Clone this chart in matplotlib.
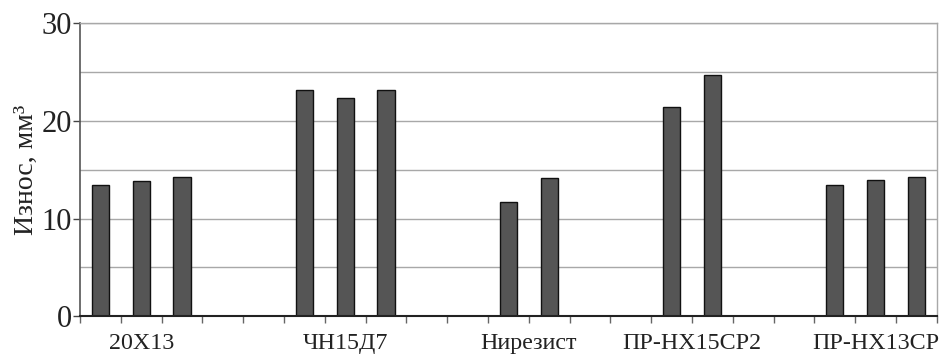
import numpy as np
import matplotlib
matplotlib.use("Agg")
import matplotlib.pyplot as plt

plt.rcParams['font.family'] = ['Liberation Serif', 'DejaVu Serif']

# Wear volume per sample
groups = ["20X13", "ЧН15Д7", "Нирезист", "ПР-НХ15СР2", "ПР-НХ13СР"]
wear_20x13 = [13.4, 13.9, 14.3]
wear_chn15d7 = [23.2, 22.4, 23.2]
wear_niresist = [11.7, 14.2]
wear_pr_nh15sr2 = [21.4, 24.7]
wear_pr_nh13sr = [13.4, 14.0, 14.3]

# Category slots occupied by each group's bars (21 slots on the axis)
slots_20x13 = [0, 1, 2]
slots_chn15d7 = [5, 6, 7]
slots_niresist = [10, 11]
slots_pr_nh15sr2 = [14, 15]
slots_pr_nh13sr = [18, 19, 20]
n_slots = 21

y_ticks = [0, 10, 20, 30]
y_label = "Износ, мм³"

series = [
    (slots_20x13, wear_20x13),
    (slots_chn15d7, wear_chn15d7),
    (slots_niresist, wear_niresist),
    (slots_pr_nh15sr2, wear_pr_nh15sr2),
    (slots_pr_nh13sr, wear_pr_nh13sr),
]

fig = plt.figure(figsize=(9.39, 3.56), dpi=100)
ax = fig.add_axes([80 / 939, 1 - 316.3 / 356, (936.7 - 80) / 939, (316.3 - 23.3) / 356])

for slots, vals in series:
    ax.bar(slots, vals, width=0.42, color="#555555", edgecolor="#111111",
           linewidth=1.0, zorder=3)

ax.set_xlim(-0.5, n_slots - 0.5)
ax.set_ylim(0, 30)

# Horizontal grid every 5 units
for y in range(5, 31, 5):
    ax.axhline(y, color="#a8a8a8", linewidth=1.0, zorder=1)

ax.set_yticks(y_ticks)
ax.set_yticklabels([str(v) for v in y_ticks], fontsize=22, color="#222222")
ax.tick_params(axis="y", direction="out", length=5, width=1, color="#444444", pad=1)

# Tick marks at slot boundaries, group names centered under their bars
ax.set_xticks(np.arange(0, n_slots + 1) - 0.5)
ax.set_xticklabels([])
ax.tick_params(axis="x", direction="out", length=5, width=1, color="#666666")
for name, (slots, vals) in zip(groups, series):
    ax.text(np.mean(slots), -3.35, name, ha="center", va="baseline", fontsize=17.3,
            color="#222222", transform=ax.transData)

ax.set_ylabel(y_label, fontsize=20, color="#222222", labelpad=2)

for side in ["top", "right"]:
    ax.spines[side].set_color("#a8a8a8")
    ax.spines[side].set_linewidth(1.0)
ax.spines["left"].set_color("#555555")
ax.spines["left"].set_linewidth(1.2)
ax.spines["bottom"].set_color("#222222")
ax.spines["bottom"].set_linewidth(1.5)
ax.spines["bottom"].set_zorder(4)

fig.savefig("out.png", dpi=100)
